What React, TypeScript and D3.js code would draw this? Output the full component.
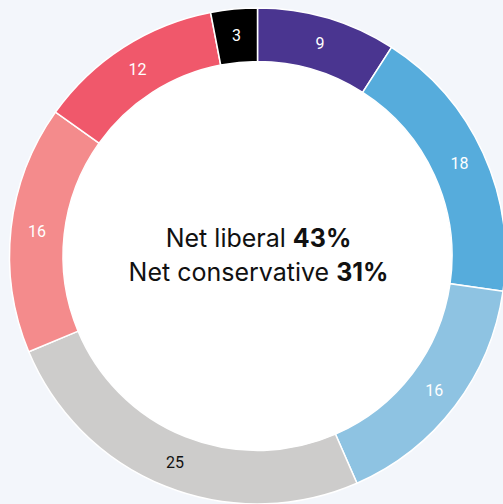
import React from "react";
import * as d3 from "d3";

const categories = ["A", "B", "C", "D", "E", "F", "G"];
const values = [9, 18, 16, 25, 16, 12, 3];
const colors = ["#4a3590", "#56acdc", "#8ec3e2", "#cdcccb", "#f48b8c", "#f0586b", "#000000"];
const labelColors = ["#ffffff", "#ffffff", "#ffffff", "#111111", "#ffffff", "#ffffff", "#ffffff"];
const centerLines = [
  { text: "Net liberal ", bold: "43%" },
  { text: "Net conservative ", bold: "31%" },
];

const W = 503;
const H = 504;
const cx = 257.5;
const cy = 256;
const R = 248;
const r = 194.5;

export default function App() {
  const data = categories.map((c, i) => ({ c, v: values[i], i }));
  const pie = d3.pie<any>().value((d: any) => d.v).sort(null).startAngle(0).endAngle(2 * Math.PI);
  const arcs = pie(data);
  const arc = d3.arc<any>().innerRadius(r).outerRadius(R);
  const labelArc = d3.arc<any>().innerRadius(222).outerRadius(222);
  return (
    <svg
      width={W}
      height={H}
      style={{ position: "absolute", left: 0, top: 0, background: "#f3f6fb" }}
    >
      <g transform={`translate(${cx},${cy})`}>
        <circle r={r} fill="#ffffff" />
        {arcs.map((a: any) => (
          <path key={a.data.c} d={arc(a) as string} fill={colors[a.data.i]} stroke="#ffffff" strokeWidth={1.5} />
        ))}
        {arcs.map((a: any) => {
          const [x, y] = labelArc.centroid(a);
          return (
            <text
              key={"l" + a.data.c}
              x={x}
              y={y}
              textAnchor="middle"
              dominantBaseline="central"
              fill={labelColors[a.data.i]}
              fontFamily="Roboto, 'Noto Sans', sans-serif"
              fontWeight={400}
              fontSize={16}
            >
              {a.data.v}
            </text>
          );
        })}
        {centerLines.map((l, i) => (
          <text
            key={"c" + i}
            x={1}
            y={-9 + i * 34}
            textAnchor="middle"
            fontFamily="Inter, Roboto, sans-serif"
            fontSize={25}
            fill="#111111"
          >
            {l.text}
            <tspan fontWeight={700}>{l.bold}</tspan>
          </text>
        ))}
      </g>
    </svg>
  );
}
